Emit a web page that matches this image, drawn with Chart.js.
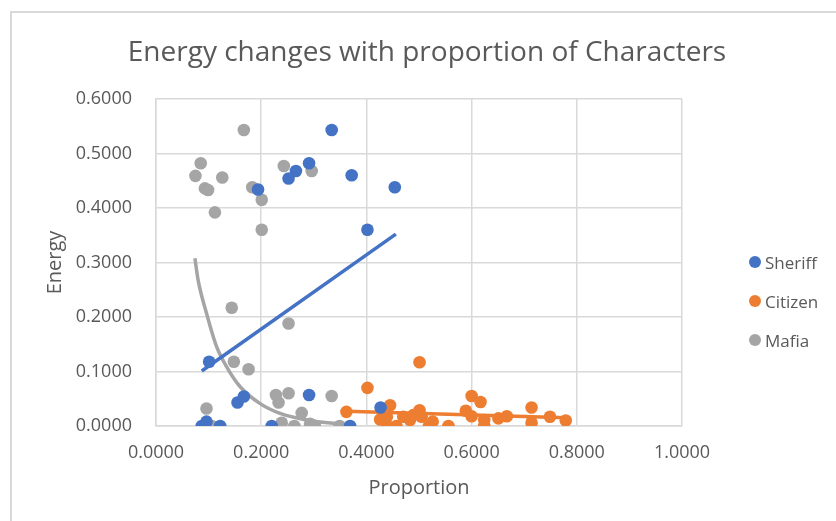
<!DOCTYPE html>
<html lang="en">
<head>
    <script src="https://cdn.jsdelivr.net/npm/chart.js"></script>
    <style>
        body { margin: 0; background: #fff; }
        .wrap { position: relative; width: 836px; height: 521px; overflow: hidden; font-family: 'Open Sans', sans-serif; }
        .frame { position: absolute; left: 10px; top: 11px; width: 900px; height: 600px; border-top: 2px solid #d9d9d9; border-left: 2px solid #d9d9d9; }
        canvas { position: absolute; left: 0; top: 0; }
        .title { position: absolute; left: 0; top: 33px; width: 854px; text-align: center; font-size: 28px; line-height: 34px; color: #595959; white-space: nowrap; }
        .legend { position: absolute; left: 749px; top: 250px; color: #595959; font-size: 17px; }
        .legend div { display: flex; align-items: center; height: 24px; margin-bottom: 15px; }
        .legend span.dot { width: 12px; height: 12px; border-radius: 50%; display: inline-block; margin-right: 4px; }
    </style>
</head>
<body>
<div class="wrap">
    <div class="frame"></div>
    <canvas id="chart" width="836" height="521"></canvas>
    <div class="title">Energy changes with proportion of Characters</div>
    <div class="legend">
        <div><span class="dot" style="background:#4472c4"></span>Sheriff</div>
        <div><span class="dot" style="background:#ed7d31"></span>Citizen</div>
        <div><span class="dot" style="background:#a5a5a5"></span>Mafia</div>
    </div>
</div>
<script>
    // values
    const sheriffX = [0.334, 0.291, 0.266, 0.252, 0.372, 0.194, 0.454, 0.402, 0.101, 0.155, 0.167, 0.291, 0.087, 0.096, 0.122, 0.220, 0.369, 0.427];
    const sheriffY = [0.543, 0.482, 0.468, 0.454, 0.460, 0.434, 0.438, 0.360, 0.118, 0.043, 0.054, 0.057, 0.000, 0.008, 0.000, 0.000, 0.000, 0.034];

    const citizenX = [0.501, 0.402, 0.600, 0.617, 0.714, 0.445, 0.501, 0.589, 0.362, 0.749, 0.779, 0.667, 0.651, 0.714, 0.624, 0.624, 0.600, 0.556, 0.519, 0.526, 0.483, 0.489, 0.505, 0.457, 0.440, 0.426, 0.439, 0.470];
    const citizenY = [0.117, 0.070, 0.055, 0.044, 0.034, 0.038, 0.029, 0.028, 0.026, 0.017, 0.010, 0.018, 0.014, 0.006, 0.011, 0.000, 0.018, 0.000, 0.000, 0.008, 0.011, 0.020, 0.017, 0.000, 0.000, 0.012, 0.017, 0.017];

    const mafiaX = [0.167, 0.085, 0.075, 0.093, 0.099, 0.126, 0.112, 0.183, 0.201, 0.201, 0.243, 0.296, 0.144, 0.252, 0.148, 0.176, 0.096, 0.106, 0.228, 0.252, 0.233, 0.334, 0.277, 0.239, 0.263, 0.293, 0.302, 0.349];
    const mafiaY = [0.543, 0.482, 0.459, 0.436, 0.433, 0.456, 0.392, 0.438, 0.415, 0.360, 0.477, 0.468, 0.217, 0.188, 0.118, 0.104, 0.032, 0.000, 0.057, 0.060, 0.043, 0.055, 0.024, 0.006, 0.000, 0.004, 0.000, 0.000];

    // trendlines as drawn in the reference
    const sheriffTrendX = [0.087, 0.456];
    const sheriffTrendY = [0.101, 0.352];
    const citizenTrendX = [0.362, 0.781];
    const citizenTrendY = [0.027, 0.015];
    const mafiaTrendX = [0.074, 0.080, 0.096, 0.115, 0.134, 0.160, 0.198, 0.236, 0.286, 0.337, 0.356];
    const mafiaTrendY = [0.308, 0.268, 0.207, 0.146, 0.109, 0.072, 0.041, 0.023, 0.011, 0.005, 0.004];

    const xTicks = [0, 0.2, 0.4, 0.6, 0.8, 1.0];
    const yTicks = [0, 0.1, 0.2, 0.3, 0.4, 0.5, 0.6];

    const pts = (xs, ys) => xs.map((x, i) => ({ x: x, y: ys[i] }));

    const blue = '#4472c4', orange = '#ed7d31', grey = '#a5a5a5';
    const grid = '#d9d9d9', text = '#595959';

    function scatter(label, data, color) {
        return { type: 'scatter', label: label, data: data, backgroundColor: color, borderColor: color,
                 pointRadius: 6.3, pointHoverRadius: 6.3, borderWidth: 0 };
    }
    function trend(data, color, curved) {
        return { type: 'line', data: data, borderColor: color, borderWidth: 3.5, pointRadius: 0,
                 tension: curved ? 0.4 : 0, cubicInterpolationMode: curved ? 'monotone' : 'default', fill: false };
    }

    new Chart(document.getElementById('chart'), {
        type: 'scatter',
        data: {
            datasets: [
                scatter('Sheriff', pts(sheriffX, sheriffY), blue),
                scatter('Citizen', pts(citizenX, citizenY), orange),
                scatter('Mafia', pts(mafiaX, mafiaY), grey),
                trend(pts(sheriffTrendX, sheriffTrendY), blue, false),
                trend(pts(citizenTrendX, citizenTrendY), orange, false),
                trend(pts(mafiaTrendX, mafiaTrendY), grey, true)
            ]
        },
        options: {
            responsive: false,
            animation: false,
            layout: { padding: { left: 0, right: 154, top: 99, bottom: 0 } },
            plugins: {
                legend: { display: false },
                tooltip: { enabled: false }
            },
            scales: {
                x: {
                    type: 'linear', min: 0, max: 1,
                    afterFit: s => { s.height = 95; },
                    afterBuildTicks: s => { s.ticks = xTicks.map(v => ({ value: v })); },
                    ticks: { color: text, font: { family: 'Open Sans', size: 18 }, padding: 16,
                             callback: v => v.toFixed(4) },
                    grid: { color: grid, lineWidth: 1.5, drawTicks: false },
                    border: { color: grid, width: 1.5 },
                    title: { display: true, text: 'Proportion', color: text,
                             font: { family: 'Open Sans', size: 20, lineHeight: 1.2 }, padding: { top: 0, bottom: 21 } }
                },
                y: {
                    type: 'linear', min: 0, max: 0.6,
                    afterFit: s => { s.width = 156; },
                    afterBuildTicks: s => { s.ticks = yTicks.map(v => ({ value: v })); },
                    ticks: { color: text, font: { family: 'Open Sans', size: 18 }, padding: 24,
                             callback: v => v.toFixed(4) },
                    grid: { color: grid, lineWidth: 1.5, drawTicks: false },
                    border: { color: grid, width: 1.5 },
                    title: { display: true, text: 'Energy', color: text,
                             font: { family: 'Open Sans', size: 20, lineHeight: 1.2 }, padding: { top: 43, bottom: 0 } }
                }
            }
        }
    });
</script>
</body>
</html>
